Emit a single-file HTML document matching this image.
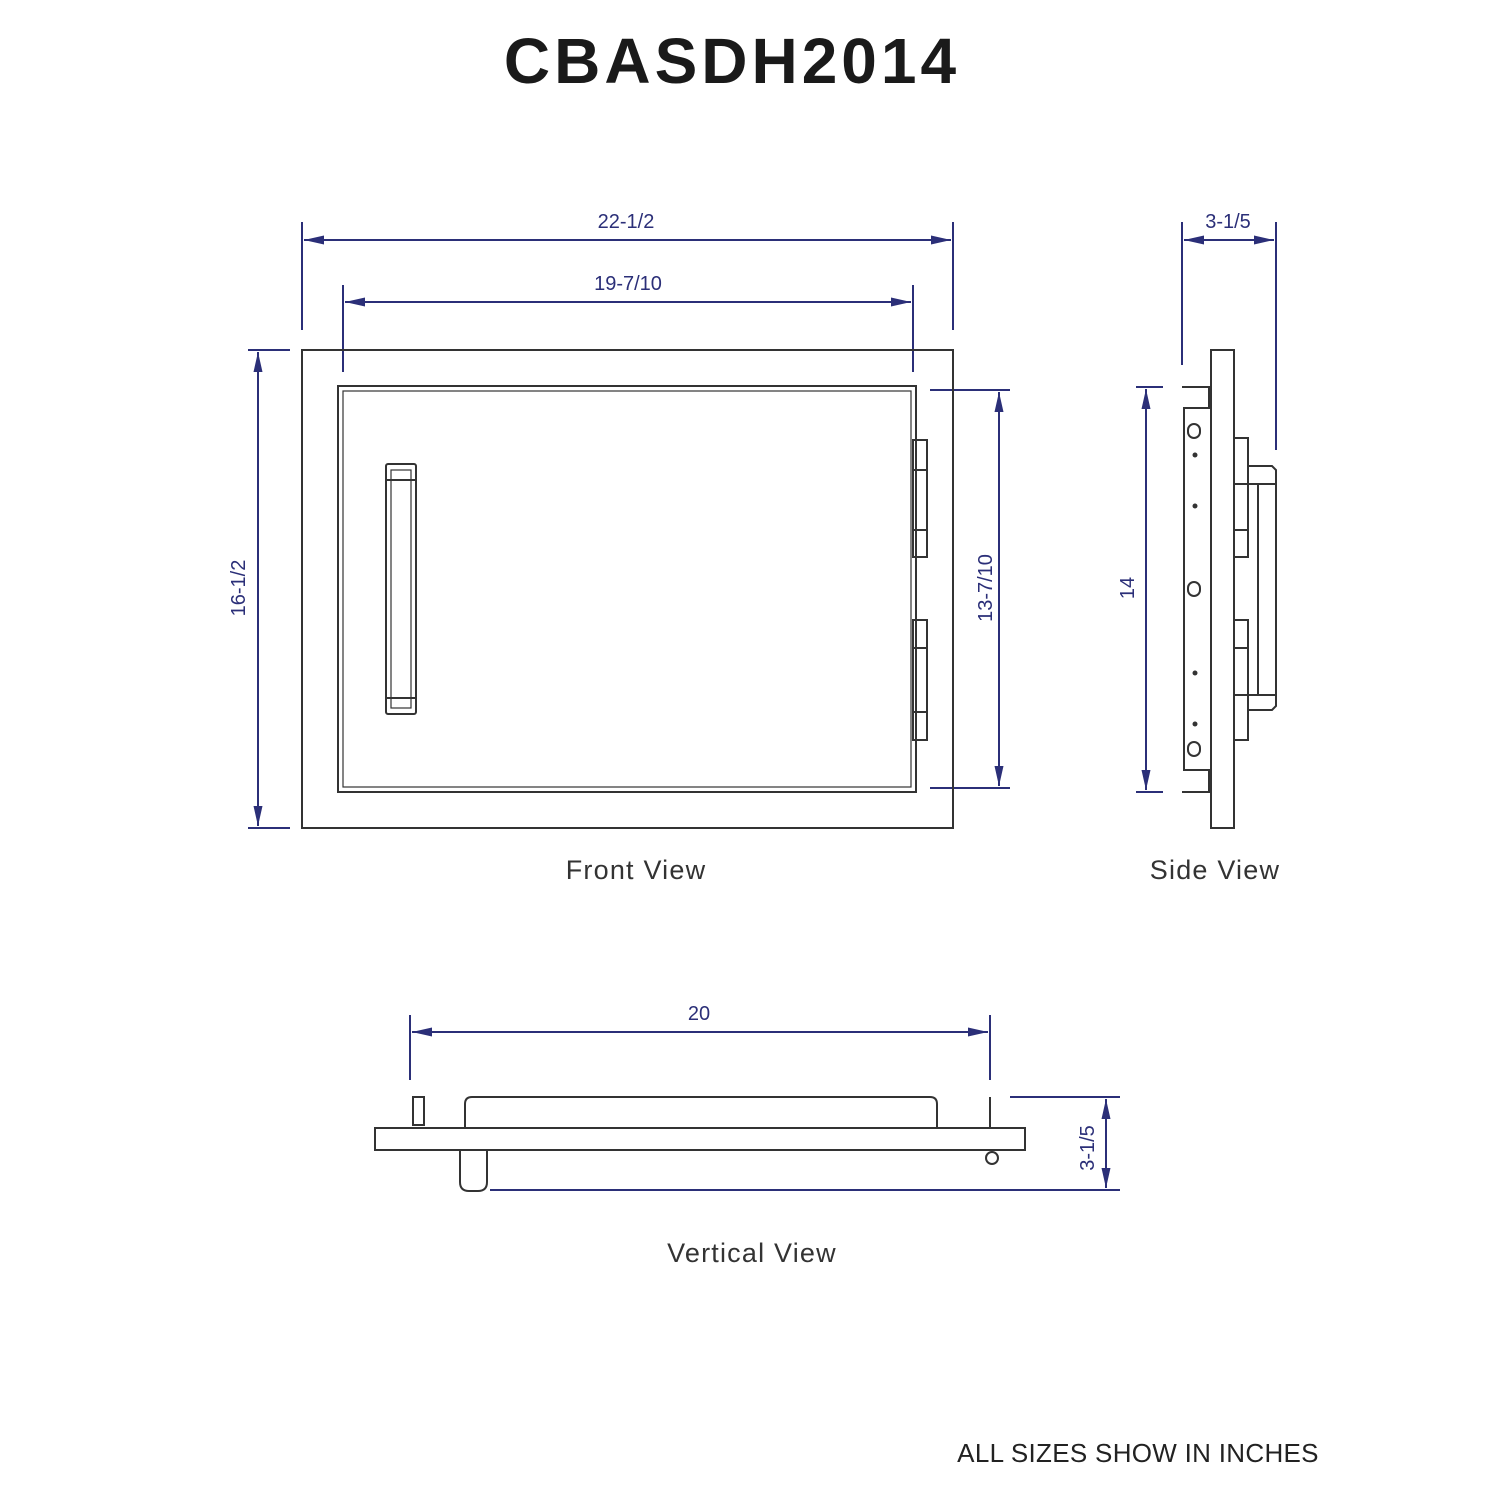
<!DOCTYPE html>
<html><head><style>html,body{margin:0;padding:0;background:#fff}svg{display:block}</style></head>
<body>
<svg width="1500" height="1500" viewBox="0 0 1500 1500" xmlns="http://www.w3.org/2000/svg" font-family="Liberation Sans, sans-serif">
<defs>
<marker id="a" viewBox="0 0 10 10" refX="10" refY="5" markerWidth="20" markerHeight="9" markerUnits="userSpaceOnUse" orient="auto-start-reverse" preserveAspectRatio="none"><path d="M0,0 L10,5 L0,10 z" fill="#2b2f78"/></marker>
</defs>
<text x="732" y="83" text-anchor="middle" font-size="64" font-weight="bold" fill="#1a1a1a" letter-spacing="4">CBASDH2014</text>

<g stroke="#2b2f78" stroke-width="2" fill="none">
<line x1="302" y1="222" x2="302" y2="330"/><line x1="953" y1="222" x2="953" y2="330"/>
<line x1="304" y1="240" x2="951" y2="240" marker-start="url(#a)" marker-end="url(#a)"/>
<line x1="343" y1="285" x2="343" y2="372"/><line x1="913" y1="285" x2="913" y2="372"/>
<line x1="345" y1="302" x2="911" y2="302" marker-start="url(#a)" marker-end="url(#a)"/>
<line x1="248" y1="350" x2="290" y2="350"/><line x1="248" y1="828" x2="290" y2="828"/>
<line x1="258" y1="352" x2="258" y2="826" marker-start="url(#a)" marker-end="url(#a)"/>
<line x1="930" y1="390" x2="1010" y2="390"/><line x1="930" y1="788" x2="1010" y2="788"/>
<line x1="999" y1="392" x2="999" y2="786" marker-start="url(#a)" marker-end="url(#a)"/>
<line x1="1182" y1="222" x2="1182" y2="365"/><line x1="1276" y1="222" x2="1276" y2="450"/>
<line x1="1184" y1="240" x2="1274" y2="240" marker-start="url(#a)" marker-end="url(#a)"/>
<line x1="1136" y1="387" x2="1163" y2="387"/><line x1="1136" y1="792" x2="1163" y2="792"/>
<line x1="1146" y1="389" x2="1146" y2="790" marker-start="url(#a)" marker-end="url(#a)"/>
<line x1="410" y1="1015" x2="410" y2="1080"/><line x1="990" y1="1015" x2="990" y2="1080"/>
<line x1="412" y1="1032" x2="988" y2="1032" marker-start="url(#a)" marker-end="url(#a)"/>
<line x1="1010" y1="1097" x2="1120" y2="1097"/><line x1="490" y1="1190" x2="1120" y2="1190"/>
<line x1="1106" y1="1099" x2="1106" y2="1188" marker-start="url(#a)" marker-end="url(#a)"/>
</g>
<g fill="#2b2f78" font-size="20" text-anchor="middle">
<text x="626" y="228">22-1/2</text>
<text x="628" y="290">19-7/10</text>
<text x="1228" y="228">3-1/5</text>
<text x="699" y="1020">20</text>
<text transform="translate(245,588) rotate(-90)">16-1/2</text>
<text transform="translate(992,588) rotate(-90)">13-7/10</text>
<text transform="translate(1134,588) rotate(-90)">14</text>
<text transform="translate(1094,1148) rotate(-90)">3-1/5</text>
</g>

<g stroke="#333" stroke-width="2" fill="none">
<rect x="302" y="350" width="651" height="478"/>
<rect x="338" y="386" width="578" height="406"/>
<rect x="343" y="391" width="568" height="396" stroke-width="1.2"/>
<rect x="386" y="464" width="30" height="250" rx="2"/>
<rect x="391" y="470" width="20" height="238" stroke-width="1.2"/>
<line x1="386" y1="480" x2="416" y2="480"/><line x1="386" y1="698" x2="416" y2="698"/>
<rect x="913" y="440" width="14" height="117"/>
<line x1="913" y1="470" x2="927" y2="470"/><line x1="913" y1="530" x2="927" y2="530"/>
<rect x="913" y="620" width="14" height="120"/>
<line x1="913" y1="648" x2="927" y2="648"/><line x1="913" y1="712" x2="927" y2="712"/>
<rect x="1211" y="350" width="23" height="478"/>
<line x1="1182" y1="387" x2="1211" y2="387"/><line x1="1182" y1="792" x2="1211" y2="792"/>
<path d="M1211,408 H1184 V770 H1211"/>
<line x1="1209" y1="387" x2="1209" y2="408"/><line x1="1209" y1="770" x2="1209" y2="792"/>
<rect x="1188" y="424" width="12" height="14" rx="6"/>
<rect x="1188" y="582" width="12" height="14" rx="6"/>
<rect x="1188" y="742" width="12" height="14" rx="6"/>
<rect x="1234" y="438" width="14" height="119"/>
<rect x="1234" y="620" width="14" height="120"/>
<path d="M1248,466 H1272 L1276,470 V706 L1272,710 H1248"/>
<line x1="1234" y1="484" x2="1276" y2="484"/><line x1="1234" y1="695" x2="1276" y2="695"/>
<line x1="1258" y1="484" x2="1258" y2="695"/>
<line x1="1234" y1="530" x2="1248" y2="530"/><line x1="1234" y1="648" x2="1248" y2="648"/>
<rect x="375" y="1128" width="650" height="22"/>
<path d="M465,1128 V1104 Q465,1097 472,1097 H930 Q937,1097 937,1104 V1128"/>
<rect x="413" y="1097" width="11" height="28"/>
<path d="M460,1150 V1182 Q460,1191 469,1191 H478 Q487,1191 487,1182 V1150"/>
<circle cx="992" cy="1158" r="6"/>
<line x1="990" y1="1097" x2="990" y2="1128"/>
</g>
<g fill="#333">
<circle cx="1195" cy="455" r="2.5"/><circle cx="1195" cy="506" r="2.5"/>
<circle cx="1195" cy="673" r="2.5"/><circle cx="1195" cy="724" r="2.5"/>
</g>

<g fill="#333" font-size="27" text-anchor="middle" letter-spacing="1.2">
<text x="636" y="879">Front View</text>
<text x="1215" y="879">Side View</text>
<text x="752" y="1262">Vertical View</text>
</g>
<text x="1138" y="1462" text-anchor="middle" font-size="26" fill="#222" letter-spacing="0.3">ALL SIZES SHOW IN INCHES</text>
</svg>
</body></html>
